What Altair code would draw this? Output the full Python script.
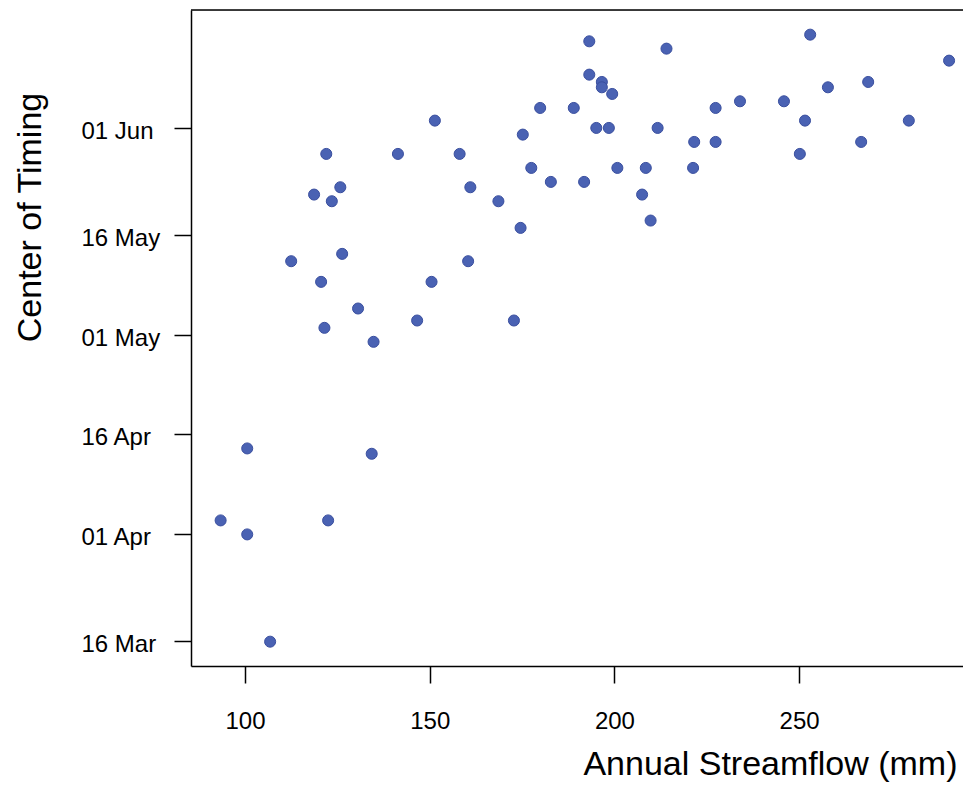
import altair as alt
import pandas as pd

# Annual streamflow (mm)
streamflow = [
    151.4, 179.9, 189.0, 175.2, 122.0, 141.4, 158.1, 177.5, 182.8, 191.8,
    118.7, 125.8, 123.5, 161.0, 168.6, 174.6, 112.5, 126.3, 120.6, 150.5,
    160.4, 130.6, 146.6, 172.8, 121.5, 134.8, 193.2, 214.1, 253.0, 290.6,
    193.2, 196.6, 196.6, 199.4, 257.8, 268.7, 227.4, 234.0, 245.9, 251.6,
    279.7, 195.1, 198.5, 211.7, 221.6, 227.4, 266.8, 250.2, 200.8, 208.5,
    221.3, 207.5, 209.8, 100.6, 134.3, 93.4, 100.6, 122.5, 106.8,
]
# Center of timing, day of year (non-leap year)
center_doy = [
    153.1, 155.0, 155.0, 151.0, 148.1, 148.1, 148.1, 146.0, 143.9, 143.9,
    142.0, 143.1, 141.0, 143.1, 141.0, 137.0, 132.0, 133.1, 128.9, 128.9,
    132.0, 124.9, 123.1, 123.1, 122.0, 119.9, 165.0, 163.9, 166.0, 162.1,
    160.0, 158.9, 158.1, 157.1, 158.1, 158.9, 155.0, 156.0, 156.0, 153.1,
    153.1, 152.0, 152.0, 152.0, 149.9, 149.9, 149.9, 148.1, 146.0, 146.0,
    146.0, 142.0, 138.1, 103.9, 103.1, 93.1, 91.0, 93.1, 74.9,
]

tick_days = [75, 91, 106, 121, 136, 152]
tick_labels = ["16 Mar", "01 Apr", "16 Apr", "01 May", "16 May", "01 Jun"]
x_ticks = [100, 150, 200, 250]

df = pd.DataFrame({"flow": streamflow, "doy": center_doy})

label_expr = " : ".join(
    [f"datum.value == {d} ? '{l}'" for d, l in zip(tick_days, tick_labels)]
) + " : ''"

FONT = "Liberation Sans"
W, H = 772, 656

points = alt.Chart(df).mark_circle(
    size=122, color="#4a62b3", opacity=1, stroke="#3a4f9f", strokeWidth=1
).encode(
    x=alt.X(
        "flow:Q",
        scale=alt.Scale(domain=[85.38, 294.37], nice=False, zero=False),
        axis=alt.Axis(
            values=x_ticks,
            format="d",
            grid=False,
            title="Annual Streamflow (mm)",
            titleFont=FONT,
            titleFontSize=34,
            titleFontWeight="normal",
            titleColor="#000000",
            titleAlign="right",
            titleBaseline="alphabetic",
            titleX=766,
            titleY=108,
            labelFont=FONT,
            labelFontSize=24,
            labelColor="#000000",
            labelBaseline="alphabetic",
            labelPadding=45,
            tickSize=17,
            tickWidth=1.5,
            tickColor="#000000",
            domainColor="#000000",
            domainWidth=1.5,
        ),
    ),
    y=alt.Y(
        "doy:Q",
        scale=alt.Scale(domain=[71.25, 169.7], nice=False, zero=False),
        axis=alt.Axis(
            values=tick_days,
            labelExpr=label_expr,
            grid=False,
            title="Center of Timing",
            titleFont=FONT,
            titleFontSize=34,
            titleFontWeight="normal",
            titleColor="#000000",
            titleAngle=270,
            titleAlign="center",
            titleBaseline="alphabetic",
            titleX=-151,
            titleY=207,
            labelFont=FONT,
            labelFontSize=24,
            labelColor="#000000",
            labelAlign="left",
            labelBaseline="alphabetic",
            labelOffset=10.5,
            labelPadding=93,
            tickSize=17,
            tickWidth=1.5,
            tickColor="#000000",
            domainColor="#000000",
            domainWidth=1.5,
        ),
    ),
)

border = alt.Chart(pd.DataFrame({"a": [0]})).mark_rule(
    color="#000000", strokeWidth=1.5
).encode(x=alt.value(0), x2=alt.value(W), y=alt.value(0))

chart = alt.layer(points, border).properties(
    width=W,
    height=H,
    autosize=alt.AutoSizeParams(type="none"),
    padding={"left": 183, "top": 2, "right": 0, "bottom": 117},
).configure_view(strokeWidth=0).configure(background="white")

chart.save("out.html", embed_options={"renderer": "svg", "actions": False})
